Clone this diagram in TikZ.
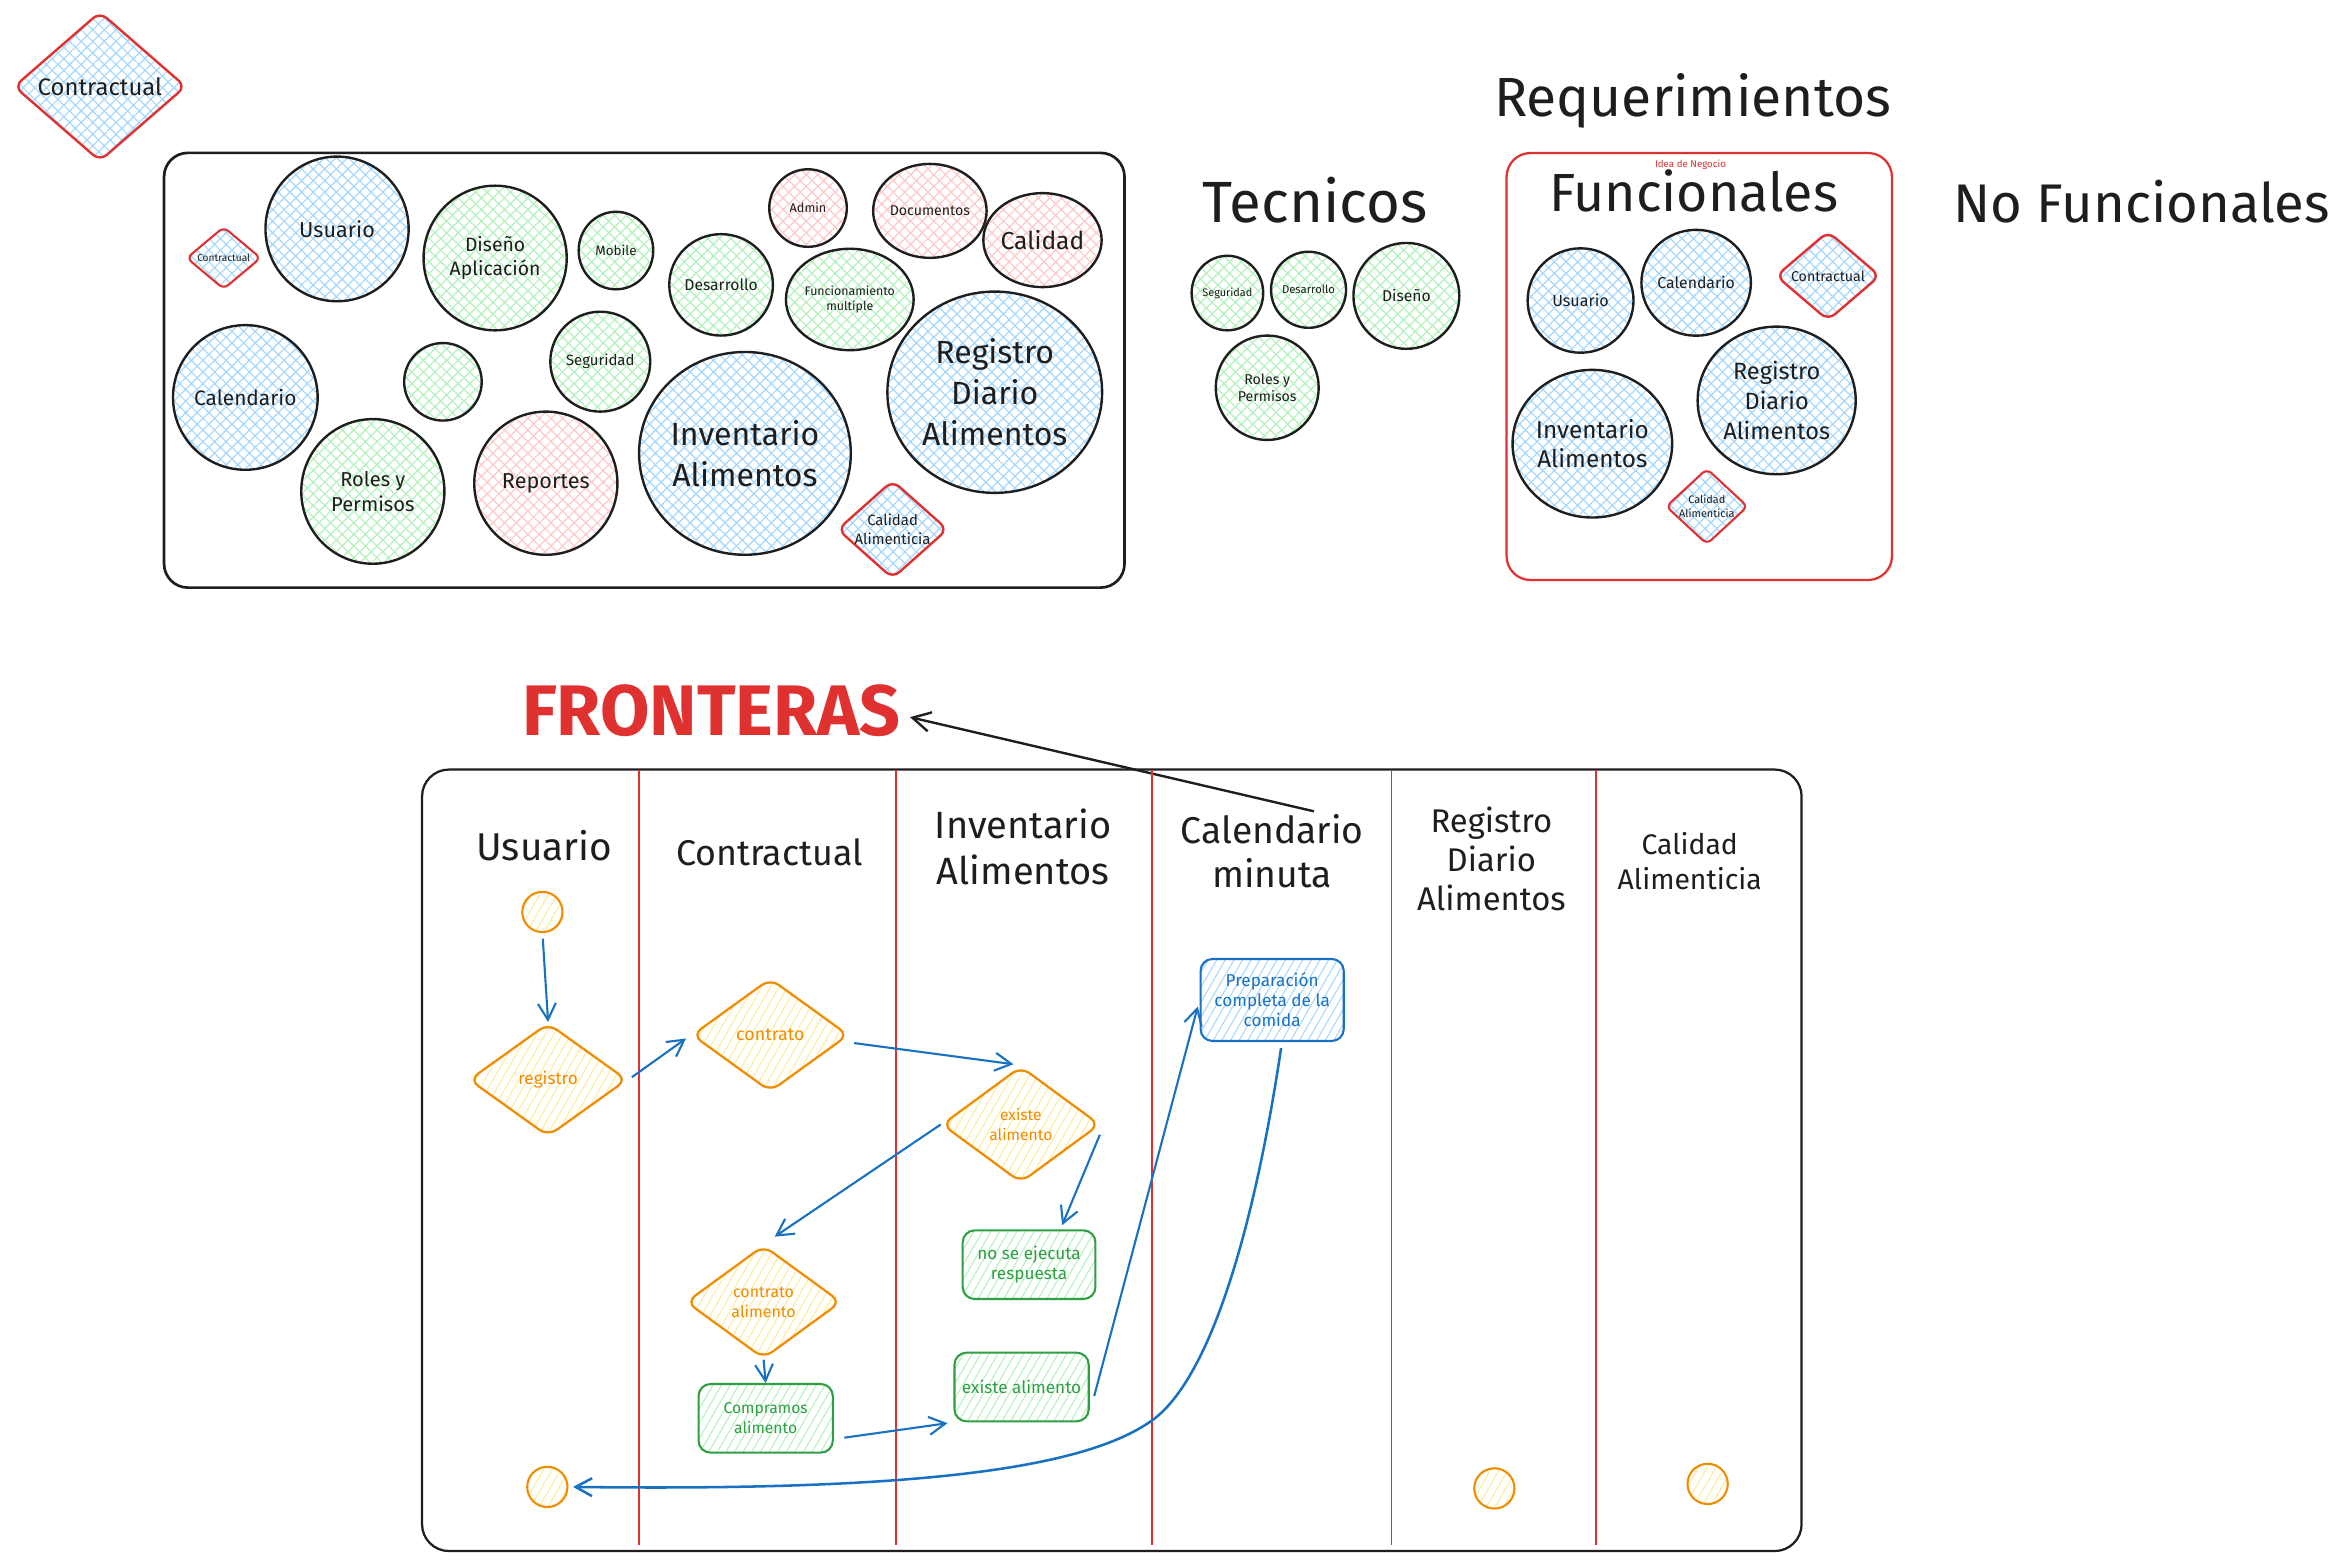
\documentclass[tikz,border=0pt]{standalone}
\usepackage{fontspec}
\setmainfont{Fira Sans}
\usetikzlibrary{shapes.geometric,patterns.meta,arrows.meta,calc}
\definecolor{inkc}{HTML}{1E1E1E}
\definecolor{redc}{HTML}{E03131}
\definecolor{bluef}{HTML}{A5D8FF}
\definecolor{greenf}{HTML}{B2F2BB}
\definecolor{redf}{HTML}{FFC9C9}
\definecolor{yellowf}{HTML}{FFEC99}
\definecolor{orangec}{HTML}{F08C00}
\definecolor{greenc}{HTML}{2F9E44}
\definecolor{bluec}{HTML}{1971C2}
\newcommand\myfs[2]{\fontsize{#1}{#2}\selectfont}
\begin{document}
\begin{tikzpicture}[x=1pt,y=-1pt,
 tx/.style={inner sep=0pt, text=inkc, align=center},
 circ/.style={ellipse, draw=inkc, line width=1.6pt, inner sep=0pt, align=center, text=inkc},
 hblue/.style={pattern={Hatch[angle=45,distance=5.5pt,line width=0.8pt]}, pattern color=bluef},
 hgreen/.style={pattern={Hatch[angle=45,distance=5.5pt,line width=0.8pt]}, pattern color=greenf},
 hred/.style={pattern={Hatch[angle=45,distance=5.5pt,line width=0.8pt]}, pattern color=redf},
 rdia/.style={diamond, draw=redc, line width=1.6pt, rounded corners=6pt, inner sep=0pt, hblue},
 fdia/.style={diamond, draw=orangec, line width=1.5pt, rounded corners=7pt, inner sep=0pt, pattern={Lines[angle=60,distance=5pt,line width=0.7pt]}, pattern color=yellowf},
 fbox/.style={rectangle, draw=greenc, line width=1.4pt, rounded corners=8pt, inner sep=0pt, align=center, text=greenc, pattern={Lines[angle=60,distance=5pt,line width=0.7pt]}, pattern color=greenf},
 pbox/.style={fbox, draw=bluec, text=bluec, pattern color=bluef},
 fcirc/.style={ellipse, draw=orangec, line width=1.4pt, inner sep=0pt, minimum width=27pt, minimum height=27pt, pattern={Lines[angle=60,distance=5pt,line width=0.7pt]}, pattern color=yellowf},
 farr/.style={draw=bluec, line width=1.4pt, -{Straight Barb[length=11pt,width=12pt]}},
 lane/.style={draw=redc, line width=1.2pt},
]
\fill[white] (0,0) rectangle (1565,1046.7);
\useasboundingbox (0,0) rectangle (1565,1046.7);

% ---------- top left ----------
\node[rdia, minimum width=115pt, minimum height=100pt, label={[tx,font=\myfs{16}{19}]center:Contractual}] (topc) at (67,58) {};

\draw[draw=inkc, line width=1.8pt, rounded corners=16pt] (110,102.5) rectangle (754,394);

\node[rdia, minimum width=50pt, minimum height=42pt, line width=1.4pt, rounded corners=4pt, label={[tx,font=\myfs{6.8}{8}]center:Contractual}] (b-con) at (150,173) {};
\node[circ,hblue,minimum width=96pt,minimum height=97pt,font=\myfs{14.5}{17}] (b-usu) at (226,153.5) {Usuario};
\node[circ,hgreen,minimum width=96pt,minimum height=97pt,font=\myfs{13}{16.7}] (b-dis) at (332,173) {Diseño\\Aplicación};
\node[circ,hgreen,minimum width=50pt,minimum height=52pt,font=\myfs{9}{11}] (b-mob) at (413,168) {Mobile};
\node[circ,hgreen,minimum width=67pt,minimum height=68pt,font=\myfs{10.5}{12}] (b-des) at (483.5,191) {Desarrollo};
\node[circ,hred,minimum width=52pt,minimum height=52pt,font=\myfs{8.5}{10}] (b-adm) at (541.8,139.5) {Admin};
\node[circ,hred,minimum width=64pt,minimum height=63pt,font=\myfs{9.5}{11}] (b-doc) at (623.5,141.4) {Documentos};
\node[circ,hred,minimum width=63pt,minimum height=63pt,font=\myfs{16.5}{19}] (b-cal) at (699,161) {Calidad};
\node[circ,hgreen,minimum width=68pt,minimum height=68pt,font=\myfs{8.3}{10.7}] (b-fun) at (569.8,200.8) {Funcionamiento\\multiple};
\node[circ,hblue,minimum width=144pt,minimum height=135pt,font=\myfs{21.5}{27.5}] (b-reg) at (667,263) {Registro\\Diario\\Alimentos};
\node[circ,hblue,minimum width=97pt,minimum height=97pt,font=\myfs{14}{17}] (b-cln) at (164.5,266.5) {Calendario};
\node[circ,hgreen,minimum width=52pt,minimum height=52pt] (b-emp) at (297,256) {};
\node[circ,hgreen,minimum width=67pt,minimum height=67pt,font=\myfs{10}{12}] (b-seg) at (402.5,242.5) {Seguridad};
\node[circ,hgreen,minimum width=96pt,minimum height=97pt,font=\myfs{13.5}{16.7}] (b-rol) at (250,329.5) {Roles y\\Permisos};
\node[circ,hred,minimum width=96pt,minimum height=96pt,font=\myfs{14.5}{17}] (b-rep) at (366,324) {Reportes};
\node[circ,hblue,minimum width=142pt,minimum height=136pt,font=\myfs{21.5}{27.5}] (b-inv) at (499.5,304) {Inventario\\Alimentos};
\node[rdia, minimum width=74pt, minimum height=66pt, label={[tx,font=\myfs{10}{12.5}]center:Calidad\\Alimenticia}] (b-cda) at (598.5,355) {};

% ---------- titles ----------
\node[tx, anchor=base, font=\myfs{37}{40}] (t-req) at (1135,78.4) {Requerimientos};
\node[tx, anchor=base, font=\myfs{39}{40}] (t-tec) at (881.7,149.2) {Tecnicos};
\node[tx, anchor=base, font=\myfs{36}{40}] (t-fun) at (1135.6,141.5) {Funcionales};
\node[tx, anchor=base, font=\myfs{36.5}{40}] (t-nof) at (1436,149.2) {No Funcionales};
\node[tx, text=redc, font=\myfs{6.5}{8}] (t-idea) at (1133.5,110.5) {Idea de Negocio};

% ---------- tecnicos ----------
\node[circ,hgreen,minimum width=48pt,minimum height=50pt,font=\myfs{7.3}{9}] (t-seg) at (823,196.5) {Seguridad};
\node[circ,hgreen,minimum width=50pt,minimum height=51pt,font=\myfs{7.6}{9}] (t-des) at (877.4,194.3) {Desarrollo};
\node[circ,hgreen,minimum width=71pt,minimum height=71pt,font=\myfs{10.5}{12}] (t-dis) at (943,198.4) {Diseño};
\node[circ,hgreen,minimum width=69pt,minimum height=70pt,font=\myfs{9.5}{11.5}] (t-rol) at (849.7,260) {Roles y\\Permisos};

% ---------- funcionales ----------
\draw[draw=redc, line width=1.5pt, rounded corners=16pt] (1010.2,102.6) rectangle (1268.6,388.9);
\node[circ,hblue,minimum width=71pt,minimum height=70pt,font=\myfs{10.8}{13}] (f-usu) at (1059.8,201.5) {Usuario};
\node[circ,hblue,minimum width=71pt,minimum height=71pt,font=\myfs{10.6}{13}] (f-cal) at (1137.3,189.6) {Calendario};
\node[rdia, minimum width=70pt, minimum height=60pt, label={[tx,font=\myfs{9.5}{11}]center:Contractual}] (f-con) at (1225.7,185) {};
\node[circ,hblue,minimum width=106pt,minimum height=99pt,font=\myfs{15.8}{20}] (f-reg) at (1191.3,268.5) {Registro\\Diario\\Alimentos};
\node[circ,hblue,minimum width=105pt,minimum height=99pt,font=\myfs{16.3}{20}] (f-inv) at (1067.7,297.5) {Inventario\\Alimentos};
\node[rdia, minimum width=55pt, minimum height=51pt, line width=1.4pt, rounded corners=4pt, label={[tx,font=\myfs{7.3}{9.4}]center:Calidad\\Alimenticia}] (f-cda) at (1144.5,339.6) {};

% ---------- fronteras ----------
\node[tx, anchor=base, text=redc, font=\bfseries\myfs{48}{50}] (fron) at (477,493) {FRONTERAS};
\coordinate (fa) at (881,544);
\draw[draw=inkc, line width=1.6pt, -{Straight Barb[length=12pt,width=13pt]}] (fa) -- ([xshift=6pt,yshift=-4.5pt]fron.east);

\draw[draw=inkc, line width=1.5pt, rounded corners=18pt] (283,516) rectangle (1208,1040);
\foreach \lx in {428.5,601,772.5,933,1070} {\draw[lane] (\lx,516) -- (\lx,1036);}

\node[tx, anchor=base, font=\myfs{26}{30}] (h-usu) at (365,577) {Usuario};
\node[tx, anchor=base, font=\myfs{24}{30}] (h-con) at (516,580) {Contractual};
\node[tx, font=\myfs{25.5}{31}] (h-inv) at (686,567.7) {Inventario\\Alimentos};
\node[tx, font=\myfs{25}{30}] (h-cal) at (853,570.7) {Calendario\\minuta};
\node[tx, font=\myfs{22}{26}] (h-reg) at (1000,576) {Registro\\Diario\\Alimentos};
\node[tx, font=\myfs{19}{23}] (h-cda) at (1133,577.4) {Calidad\\Alimenticia};

% ---------- flow ----------
\node[fcirc] (st) at (363.7,611.5) {};
\node[fdia, minimum width=106pt, minimum height=76pt, label={[tx,text=orangec,font=\myfs{11.5}{13.5}]center:registro}] (reg) at (367.5,724) {};
\node[fdia, minimum width=105pt, minimum height=76pt, label={[tx,text=orangec,font=\myfs{12}{13.5}]center:contrato}] (con) at (516.5,694) {};
\node[fdia, minimum width=106pt, minimum height=78pt, label={[tx,text=orangec,font=\myfs{10.5}{13}]center:existe\\alimento}] (ex) at (684.5,754) {};
\node[fbox, minimum width=89pt, minimum height=46pt, font=\myfs{11.5}{13.5}] (noex) at (690,848) {no se ejecuta\\respuesta};
\node[fdia, minimum width=104pt, minimum height=76pt, label={[tx,text=orangec,font=\myfs{10.7}{13.3}]center:contrato\\alimento}] (calim) at (512,873) {};
\node[fbox, minimum width=90pt, minimum height=46pt, font=\myfs{10.5}{13.4}] (comp) at (513.4,951) {Compramos\\alimento};
\node[fbox, minimum width=90pt, minimum height=46pt, font=\myfs{11.5}{13.5}] (exr) at (685,930) {existe alimento};
\node[pbox, minimum width=96pt, minimum height=55pt, font=\myfs{11.5}{13.3}] (prep) at (853,670.5) {Preparación\\completa de la\\comida};
\node[fcirc] (endc) at (367,997) {};
\node[fcirc] (c5) at (1002,998) {};
\node[fcirc] (c6) at (1145,995) {};

\draw[farr, shorten <=4pt] (st.south) -- (reg.north);
\draw[farr, shorten <=3pt, shorten >=4pt] (reg.east) -- (con.west);
\draw[farr, shorten <=3pt, shorten >=5pt] ([yshift=-5pt]con.east) -- (ex.north);
\draw[farr, shorten >=9pt] (ex.west) -- (calim.north);
\draw[farr, shorten <=2pt, shorten >=3pt] ([yshift=-5pt]ex.east) -- ([xshift=21pt]noex.north);
\draw[farr] (calim.south) -- (comp.north);
\draw[farr, shorten >=4pt] ([xshift=7pt,yshift=-13pt]comp.east) -- (exr.south west);
\draw[farr, shorten >=4.5pt] ([xshift=3pt,yshift=-6pt]exr.east) -- (prep.west);
\coordinate (bend) at (773,952);
\draw[farr, line width=1.7pt] ([xshift=6pt,yshift=-4pt]prep.south) .. controls (840,830) and (810,925) .. (bend) .. controls (729,984) and (620,1000) .. ([xshift=3pt]endc.east);
\end{tikzpicture}
\end{document}
